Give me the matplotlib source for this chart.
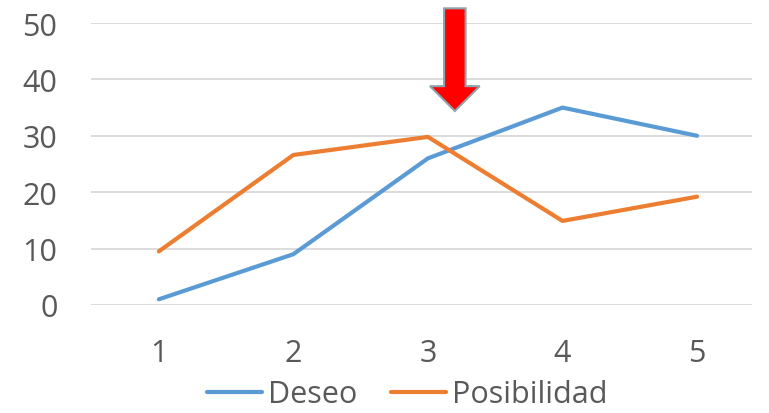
import matplotlib.pyplot as plt
import matplotlib as mpl
from matplotlib.patches import FancyArrow

# data
categories = [1, 2, 3, 4, 5]
deseo = [1, 9, 26, 35, 30]
posibilidad = [9.5, 26.6, 29.8, 14.9, 19.2]
y_ticks = [0, 10, 20, 30, 40, 50]

mpl.rc('font', family=['Open Sans', 'DejaVu Sans'], size=22)
text_col = '#595959'

fig = plt.figure(figsize=(7.69, 4.14), dpi=100)
ax = fig.add_axes([0.118, 0.261, 0.86, 0.681])

ax.plot(categories, deseo, color='#5B9BD5', lw=3, label='Deseo', solid_capstyle='round')
ax.plot(categories, posibilidad, color='#ED7D31', lw=3, label='Posibilidad', solid_capstyle='round')

ax.set_xlim(0.494, 5.409)
ax.set_ylim(0, 50)
ax.set_xticks(categories)
ax.set_yticks(y_ticks)
ax.tick_params(axis='both', length=0, colors=text_col, labelsize=22)
ax.tick_params(axis='x', pad=24)
ax.tick_params(axis='y', pad=24)
ax.grid(axis='y', color='#D9D9D9', lw=1.3)
ax.set_axisbelow(True)
for s in ax.spines.values():
    s.set_visible(False)

# red arrow pointing at category 3
arr = FancyArrow(3.2, 52.6, 0, -18.2, width=0.16, head_width=0.37,
                 head_length=4.4, length_includes_head=True,
                 facecolor='#FF0000', edgecolor='#8FA3AA', lw=1.5,
                 clip_on=False, zorder=5)
ax.add_patch(arr)

leg = fig.legend(loc='center', bbox_to_anchor=(0.53, 0.045), ncol=2,
                 frameon=False, handlelength=1.8, handletextpad=0.2,
                 columnspacing=1.1, fontsize=22, borderpad=0.1)
for t in leg.get_texts():
    t.set_color(text_col)

fig.savefig('out.png', dpi=100)
